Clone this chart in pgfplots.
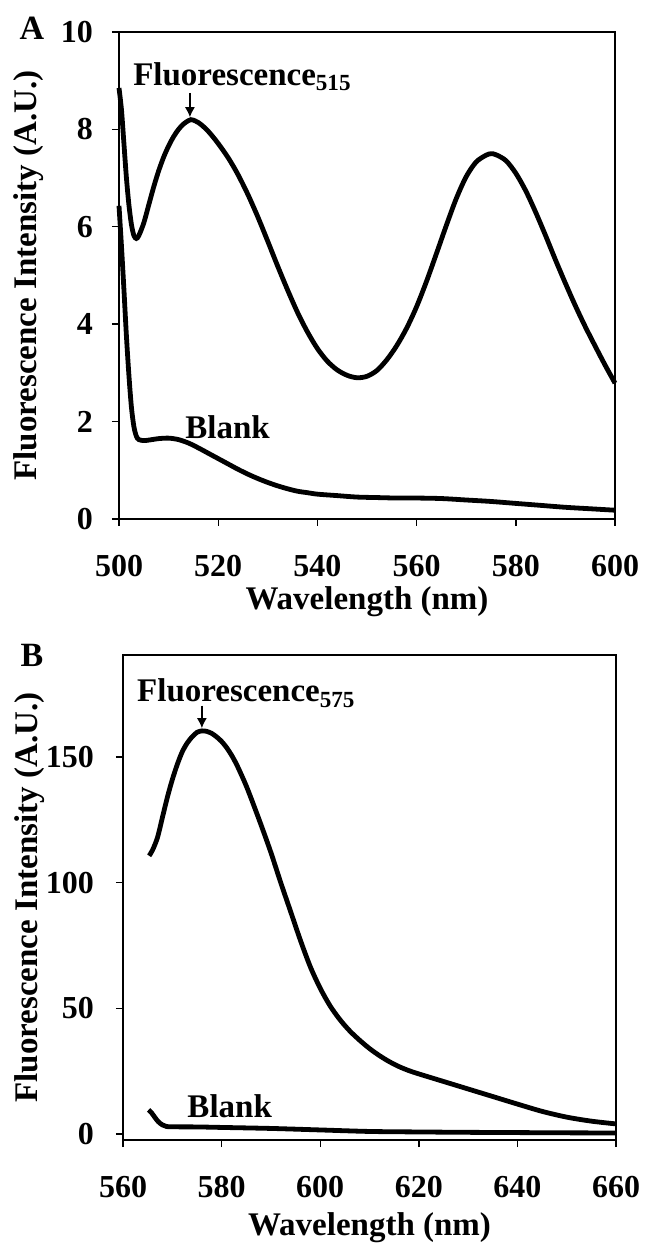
\documentclass[border=0pt]{standalone}
\usepackage{fontspec}
\setmainfont{Liberation Serif}
\usepackage{pgfplots}
\pgfplotsset{compat=1.18}
\usetikzlibrary{arrows.meta}

\pgfplotstableread{
x y
500.0 8.85
500.5 8.40
501.0 7.70
501.5 7.00
502.0 6.45
502.5 6.05
503.0 5.82
503.5 5.76
504.0 5.82
505.0 6.08
506.0 6.45
507.0 6.82
508.0 7.15
509.0 7.43
510.0 7.66
511.0 7.85
512.0 8.00
513.0 8.11
514.0 8.18
514.5 8.20
515.0 8.19
516.0 8.14
517.0 8.06
518.0 7.96
519.0 7.84
520.0 7.71
522.0 7.42
524.0 7.07
526.0 6.66
528.0 6.20
530.0 5.70
532.0 5.19
534.0 4.70
536.0 4.24
538.0 3.84
540.0 3.50
542.0 3.24
544.0 3.06
546.0 2.95
548.0 2.90
550.0 2.93
552.0 3.05
554.0 3.27
556.0 3.56
558.0 3.92
560.0 4.36
562.0 4.88
564.0 5.45
566.0 6.03
568.0 6.58
570.0 7.03
572.0 7.33
574.0 7.47
575.0 7.50
576.0 7.48
578.0 7.36
580.0 7.10
582.0 6.74
584.0 6.30
586.0 5.82
588.0 5.32
590.0 4.84
592.0 4.38
594.0 3.95
596.0 3.55
598.0 3.16
600.0 2.79
}\fluoA

\pgfplotstableread{
x y
500.0 6.43
500.5 5.60
501.0 4.70
501.5 3.75
502.0 2.95
502.5 2.30
503.0 1.90
503.5 1.70
504.0 1.63
505.0 1.61
506.0 1.62
508.0 1.65
510.0 1.66
512.0 1.63
514.0 1.56
516.0 1.46
518.0 1.35
520.0 1.24
522.0 1.13
524.0 1.02
526.0 0.92
528.0 0.83
530.0 0.75
532.0 0.68
534.0 0.62
536.0 0.57
538.0 0.54
540.0 0.51
544.0 0.48
548.0 0.45
552.0 0.44
556.0 0.43
560.0 0.43
565.0 0.42
570.0 0.39
575.0 0.36
580.0 0.32
585.0 0.28
590.0 0.24
595.0 0.21
600.0 0.18
}\blankA

\pgfplotstableread{
x y
565.3 110.7
566.0 113.0
567.0 118.0
568.0 126.0
569.0 134.0
570.0 141.0
571.0 147.0
572.0 152.0
573.0 155.5
574.0 158.0
575.0 159.8
576.0 160.4
577.0 160.2
578.0 159.4
579.0 158.0
580.0 156.2
581.0 153.8
582.0 150.8
583.0 147.2
584.0 143.0
585.0 138.5
586.0 133.5
588.0 123.0
590.0 112.0
592.0 100.0
594.0 88.5
596.0 77.0
598.0 66.5
600.0 58.0
602.0 51.0
604.0 45.5
606.0 41.0
608.0 37.3
610.0 34.0
612.0 31.2
614.0 28.8
616.0 26.8
618.0 25.2
620.0 23.9
625.0 20.9
630.0 17.9
635.0 14.9
640.0 11.9
645.0 9.0
650.0 6.7
655.0 5.1
660.0 4.0
}\fluoB

\pgfplotstableread{
x y
565.2 9.6
565.8 8.4
566.5 6.5
567.2 4.8
568.0 3.6
568.8 3.0
570.0 2.85
575.0 2.80
580.0 2.60
590.0 2.20
600.0 1.60
610.0 1.00
620.0 0.80
630.0 0.65
640.0 0.55
650.0 0.45
660.0 0.40
}\blankB

\pgfplotsset{
  curve/.style={line width=2.4bp, black, no markers, smooth, tension=0.5},
  myaxis/.style={
    scale only axis,
    clip=false,
    axis line style={line width=0.7bp, black},
    tick style={line width=0.7bp, black},
    tick align=outside,
    tick pos=left,
    major tick length=3.5bp,
    ticklabel style={font=\fontsize{16bp}{18bp}\selectfont\bfseries},
    /pgf/number format/assume math mode=true,
    xticklabel shift=11bp,
    yticklabel shift=6bp,
    xlabel={Wavelength (nm)},
    ylabel={Fluorescence Intensity (A.U.)},
  }
}

\begin{document}
\begin{tikzpicture}
\begin{axis}[myaxis,
  at={(59.5bp,366bp)}, anchor=south west,
  width=248bp, height=243.5bp,
  xmin=500, xmax=600, ymin=0, ymax=10,
  xtick={500,520,540,560,580,600},
  ytick={0,2,4,6,8,10},
  every axis y label/.style={at={(axis description cs:-0.183,0.5)}, rotate=90, anchor=center, font=\fontsize{16.5bp}{18bp}\selectfont\bfseries},
  every axis x label/.style={at={(axis description cs:0.5,-0.185)}, anchor=base, font=\fontsize{16.5bp}{18bp}\selectfont\bfseries},
]
\addplot[curve] table[x=x,y=y] {\fluoA};
\addplot[curve] table[x=x,y=y] {\blankA};
\node[anchor=base west, font=\fontsize{16.5bp}{18bp}\selectfont\bfseries, inner sep=0pt] at (axis cs:502.8,8.91) {Fluorescence\textsubscript{515}};
\draw[-{Latex[length=5bp,width=5bp]}, line width=0.7bp] (axis cs:514.3,8.75) -- (axis cs:514.3,8.25);
\node[anchor=base west, font=\fontsize{16.5bp}{18bp}\selectfont\bfseries, inner sep=0pt] at (axis cs:513.3,1.66) {Blank};
\end{axis}

\begin{axis}[myaxis,
  at={(61.5bp,55.5bp)}, anchor=south west,
  width=246.5bp, height=242.5bp,
  xmin=560, xmax=660, ymin=-2.4, ymax=190.6,
  xtick={560,580,600,620,640,660},
  ytick={0,50,100,150},
  yticklabel shift=7.5bp,
  every axis y label/.style={at={(axis description cs:-0.19,0.5)}, rotate=90, anchor=center, font=\fontsize{16.5bp}{18bp}\selectfont\bfseries},
  every axis x label/.style={at={(axis description cs:0.5,-0.197)}, anchor=base, font=\fontsize{16.5bp}{18bp}\selectfont\bfseries},
]
\addplot[curve] table[x=x,y=y] {\fluoB};
\addplot[curve] table[x=x,y=y] {\blankB};
\node[anchor=base west, font=\fontsize{16.5bp}{18bp}\selectfont\bfseries, inner sep=0pt] at (axis cs:562.8,171.9) {Fluorescence\textsubscript{575}};
\draw[-{Latex[length=5bp,width=5bp]}, line width=0.7bp] (axis cs:576,170.5) -- (axis cs:576,161.5);
\node[anchor=base west, font=\fontsize{16.5bp}{18bp}\selectfont\bfseries, inner sep=0pt] at (axis cs:573,6.4) {Blank};
\end{axis}

\node[font=\fontsize{17bp}{19bp}\selectfont\bfseries] at (16bp,611.5bp) {A};
\node[font=\fontsize{17bp}{19bp}\selectfont\bfseries] at (16bp,298bp) {B};

\pgfresetboundingbox
\path (0,0) rectangle (326bp,625.5bp);
\end{tikzpicture}
\end{document}
